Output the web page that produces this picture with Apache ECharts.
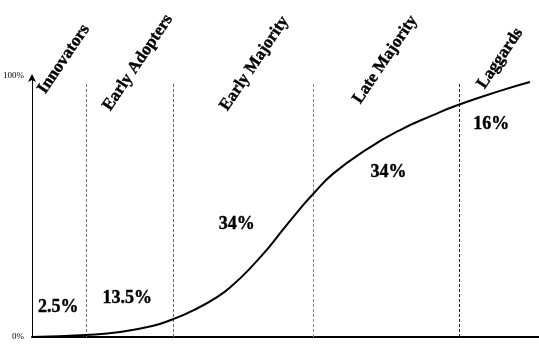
<!DOCTYPE html>
<html>
<head>
<meta charset="utf-8">
<script src="https://cdn.jsdelivr.net/npm/echarts@6/dist/echarts.min.js"></script>
<style>
html,body{margin:0;padding:0;background:#fff;}
#main{width:539px;height:345px;}
</style>
</head>
<body>
<div id="main"></div>
<script>
// Adoption curve (cumulative %), x in arbitrary time units 0..100
const curveX = [0, 10.65, 17.4, 23.9, 27.8, 31.8, 36.5, 39.6, 43.0, 46.4, 49.5, 52.9, 55.4, 59.4, 66.1, 72.6, 79.1, 84.0, 92.3, 98.2];
const curveY = [0, 0.8, 1.9, 4.3, 6.8, 10.2, 15.3, 19.9, 26.3, 33.6, 41.1, 49.2, 54.7, 62.6, 72.0, 79.3, 85.0, 88.9, 94.3, 97.7];

// Segment boundaries
const boundaryX = [10.65, 27.8, 55.4, 84.2];
const boundaryTop = 97.7;
const boundaryColors = ['#777', '#666', '#888', '#222'];

// Category names and label anchor positions
const categories = ['Innovators', 'Early Adopters', 'Early Majority', 'Late Majority', 'Laggards'];
const catX = [3.4, 16.2, 39.3, 65.5, 90.0];
const catY = [91.8, 85.3, 85.3, 88.0, 93.8];

// Share labels
const shares = ['2.5%', '13.5%', '34%', '34%', '16%'];
const shareX = [5.3, 18.9, 40.5, 70.4, 90.7];
const shareY = [11.1, 14.6, 42.9, 62.8, 81.2];

const yTicks = {0: '0%', 100: '100%'};

const chart = echarts.init(document.getElementById('main'));
const serif = '"Liberation Serif", "DejaVu Serif", serif';

chart.setOption({
  animation: false,
  backgroundColor: '#fff',
  grid: {left: 32, right: 0, top: 76, bottom: 8, containLabel: false},
  xAxis: {
    type: 'value', min: 0, max: 100,
    axisLine: {show: true, onZero: false, lineStyle: {color: '#000', width: 2}},
    axisTick: {show: false}, axisLabel: {show: false}, splitLine: {show: false}
  },
  yAxis: {
    type: 'value', min: 0, max: 100, interval: 100,
    axisLine: {show: true, lineStyle: {color: '#000', width: 1}, symbol: ['none', 'arrow'], symbolSize: [6, 8], symbolOffset: [0, 2]},
    axisTick: {show: false},
    splitLine: {show: false},
    axisLabel: {
      margin: 8, color: '#000', fontFamily: serif, fontSize: 9,
      formatter: v => yTicks[v] || ''
    }
  },
  series: [
    {
      type: 'line', smooth: 0.5, symbol: 'none',
      data: curveX.map((x, i) => [x, curveY[i]]),
      lineStyle: {color: '#000', width: 2},
      z: 5,
      markLine: {
        silent: true, symbol: 'none', label: {show: false},
        data: boundaryX.map((x, i) => [
          {coord: [x, 0], lineStyle: {color: boundaryColors[i], type: [3, 2], width: 1}},
          {coord: [x, boundaryTop]}
        ])
      }
    },
    {
      type: 'scatter', symbolSize: 1, silent: true,
      data: catX.map((x, i) => ({value: [x, catY[i]], name: categories[i]})),
      itemStyle: {color: 'rgba(0,0,0,0)'},
      label: {
        show: true, position: [0, 0], align: 'left', verticalAlign: 'bottom', rotate: 56,
        formatter: p => p.name, color: '#000', opacity: 1, fontFamily: serif, fontWeight: 'bold', fontSize: 17,
        textBorderColor: '#000', textBorderWidth: 0.4
      }
    },
    {
      type: 'scatter', symbolSize: 1, silent: true,
      data: shareX.map((x, i) => ({value: [x, shareY[i]], name: shares[i]})),
      itemStyle: {color: 'rgba(0,0,0,0)'},
      label: {
        show: true, position: [0, 0], align: 'center', verticalAlign: 'middle',
        formatter: p => p.name, color: '#000', opacity: 1, fontFamily: serif, fontWeight: 'bold', fontSize: 18,
        textBorderColor: '#000', textBorderWidth: 0.4
      }
    }
  ]
});
</script>
</body>
</html>
